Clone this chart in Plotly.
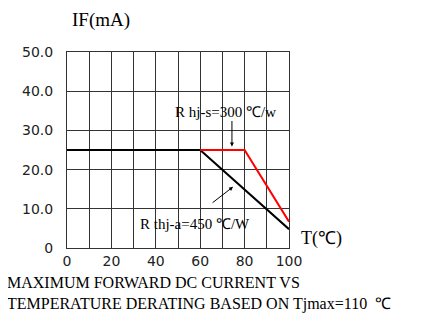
import plotly.graph_objects as go

# data
temp_a = [0, 60, 100]
if_a = [25, 25, 4.8]
temp_s = [60, 80, 100]
if_s = [25, 25, 6.7]
x_ticks = [0, 10, 20, 30, 40, 50, 60, 70, 80, 90, 100]
x_labels = ["0", "", "20", "", "40", "", "60", "", "80", "", "100"]
y_ticks = [0, 10, 20, 30, 40, 50]
y_labels = ["0", "10.0", "20.0", "30.0", "40.0", "50.0"]

serif = "Liberation Serif"
sans = "DejaVu Sans"

# page body has an 8px margin; compensate
OFF = 8
L, T, R, B = 67 - OFF, 52 - OFF, 136, 72
W, H = 425 - OFF, 320 - OFF
PW, PH = 222, 196


def px(x):
    return (x - OFF - L) / PW


def py(y):
    return (T + PH - (y - OFF)) / PH


fig = go.Figure()
fig.add_trace(go.Scatter(x=temp_a, y=if_a, mode="lines",
                         line=dict(color="black", width=2), showlegend=False))
fig.add_trace(go.Scatter(x=temp_s, y=if_s, mode="lines",
                         line=dict(color="red", width=2), showlegend=False))

fig.update_xaxes(range=[0, 100], tickvals=x_ticks, ticktext=x_labels,
                 showgrid=True, gridcolor="#333", gridwidth=1,
                 showline=True, linecolor="#333", linewidth=1, mirror=True,
                 zeroline=False, ticks="", ticklen=0, ticklabelstandoff=0,
                 tickfont=dict(family=sans, size=14, color="#222"))
fig.update_yaxes(range=[0, 50], tickvals=y_ticks, ticktext=y_labels,
                 showgrid=True, gridcolor="#333", gridwidth=1,
                 showline=True, linecolor="#333", linewidth=1, mirror=True,
                 zeroline=False, ticks="", ticklen=0, ticklabelstandoff=10,
                 tickfont=dict(family=sans, size=14, color="#222"))

anns = [
    dict(x=71.6, y=34.8, text="R hj-s=300 ℃/w", showarrow=False,
         font=dict(family=serif, size=15, color="black")),
    dict(x=57.5, y=6.0, text="R thj-a=450 ℃/W", showarrow=False,
         font=dict(family=serif, size=15, color="black")),
    dict(x=74.3, y=25.9, ax=0, ay=-27, text="", showarrow=True,
         arrowhead=2, arrowsize=0.8, arrowwidth=1, arrowcolor="black"),
    dict(x=74.8, y=15.6, ax=-22, ay=17, text="", showarrow=True,
         arrowhead=2, arrowsize=0.8, arrowwidth=1, arrowcolor="black"),
    dict(xref="paper", yref="paper", x=px(101), y=py(20),
         text="IF(mA)", showarrow=False, xanchor="center", yanchor="middle",
         font=dict(family=serif, size=19, color="black")),
    dict(xref="paper", yref="paper", x=px(321), y=py(238),
         text="T(℃)", showarrow=False, xanchor="center", yanchor="middle",
         font=dict(family=serif, size=18, color="black")),
    dict(xref="paper", yref="paper", x=px(5), y=py(293),
         text="MAXIMUM FORWARD DC CURRENT VS<br>TEMPERATURE DERATING BASED ON Tjmax=110  ℃",
         showarrow=False, xanchor="left", yanchor="middle", align="left",
         font=dict(family=serif, size=16, color="black")),
]
fig.update_layout(width=W, height=H, margin=dict(l=L, r=R, t=T, b=B),
                  plot_bgcolor="white", paper_bgcolor="white", annotations=anns)
fig.write_html("out.html")
